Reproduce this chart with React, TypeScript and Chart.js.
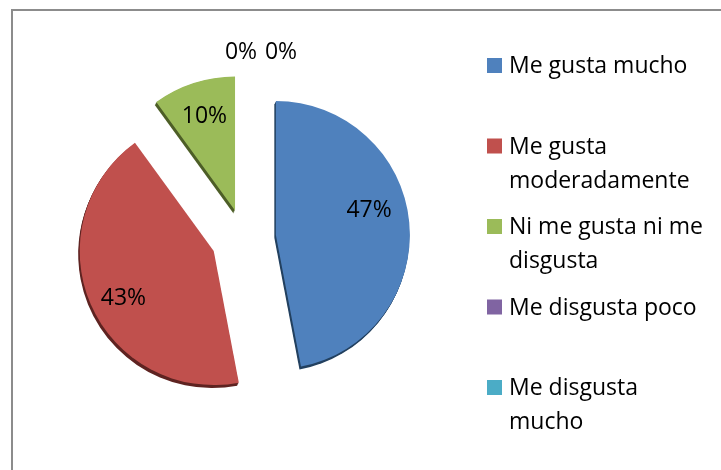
import React, { useEffect, useRef } from "react";
import { Chart, registerables } from "chart.js";

Chart.register(...registerables);

// ---- data ----
const categories = [
  "Me gusta mucho",
  "Me gusta moderadamente",
  "Ni me gusta ni me disgusta",
  "Me disgusta poco",
  "Me disgusta mucho",
];
const values = [47, 43, 10, 0, 0];
const percentLabels = ["47%", "43%", "10%", "0%", "0%"];

// ---- style ----
const colors = ["#4f81bd", "#c0504d", "#9bbb59", "#8064a2", "#4bacc6"];
const sideColors = ["#22405f", "#5e2321", "#4d5e27", "#40325a", "#246070"];
const explode = [32, 33, 29, 0, 0];
const labelAngleNudge = [-9.6, -4.2, 0, 0, 0];
const labelRadiusFrac = [0.72, 0.76, 0.74, 0, 0];
const FONT = "'Open Sans', Lato, sans-serif";
const LABEL_SIZE = 23;
const LEGEND_SIZE = 23;

function sliceCenter(el: any, i: number) {
  const p = el.getProps(["x", "y", "startAngle", "endAngle", "outerRadius", "circumference"], true);
  const mid = (p.startAngle + p.endAngle) / 2;
  const d = explode[i] || 0;
  return { ...p, mid, cx: p.x + Math.cos(mid) * d, cy: p.y + Math.sin(mid) * d };
}

const explodePlugin = {
  id: "explodeSlices",
  afterDatasetUpdate(chart: any, args: any) {
    args.meta.data.forEach((el: any, i: number) => {
      if (el.__exploded) return;
      const orig = el.draw;
      el.draw = function (ctx: any, area: any) {
        const mid = (this.startAngle + this.endAngle) / 2;
        const d = explode[i] || 0;
        ctx.save();
        ctx.translate(Math.cos(mid) * d, Math.sin(mid) * d);
        orig.call(this, ctx, area);
        ctx.restore();
      };
      el.__exploded = true;
    });
  },
};

const sidePlugin = {
  id: "side3d",
  beforeDatasetsDraw(chart: any) {
    const ctx = chart.ctx;
    const meta = chart.getDatasetMeta(0);
    meta.data.forEach((el: any, i: number) => {
      const s = sliceCenter(el, i);
      if (!s.circumference) return;
      ctx.save();
      ctx.fillStyle = sideColors[i];
      for (let k = 1; k <= 3; k++) {
        const ox = s.cx - 0.5 * k;
        const oy = s.cy + k;
        ctx.beginPath();
        ctx.moveTo(ox, oy);
        ctx.arc(ox, oy, s.outerRadius, s.startAngle, s.endAngle);
        ctx.closePath();
        ctx.fill();
      }
      ctx.restore();
    });
  },
};

const labelPlugin = {
  id: "sliceLabels",
  afterDatasetsDraw(chart: any) {
    const ctx = chart.ctx;
    const meta = chart.getDatasetMeta(0);
    ctx.save();
    ctx.font = `${LABEL_SIZE}px ${FONT}`;
    ctx.fillStyle = "#000";
    ctx.textAlign = "center";
    ctx.textBaseline = "middle";
    let zeroIdx = 0;
    meta.data.forEach((el: any, i: number) => {
      const s = sliceCenter(el, i);
      if (s.circumference) {
        const a = s.mid + (labelAngleNudge[i] * Math.PI) / 180;
        const r = s.outerRadius * labelRadiusFrac[i];
        ctx.fillText(percentLabels[i], s.cx + Math.cos(a) * r, s.cy + Math.sin(a) * r);
      } else {
        const lx = s.x - 3 + zeroIdx * 40;
        const ly = s.y - (s.outerRadius + 52);
        ctx.fillText(percentLabels[i], lx, ly);
        zeroIdx++;
      }
    });
    ctx.restore();
  },
};

const legendPlugin = {
  id: "wrapLegend",
  afterDraw(chart: any) {
    const ctx = chart.ctx;
    const ds = chart.data.datasets[0];
    const labels: string[] = chart.data.labels;
    const boxX = 487;
    const textX = 509;
    const firstTop = 58;
    const step = 80.5;
    const lineH = 34;
    const maxW = 200;
    ctx.save();
    ctx.font = `${LEGEND_SIZE}px ${FONT}`;
    ctx.textAlign = "left";
    ctx.textBaseline = "alphabetic";
    labels.forEach((lab, i) => {
      const top = firstTop + i * step;
      ctx.fillStyle = ds.backgroundColor[i];
      ctx.fillRect(boxX, top, 15, 15);
      const words = lab.split(" ");
      const lines: string[] = [];
      let cur = "";
      words.forEach((w) => {
        const test = cur ? cur + " " + w : w;
        if (cur && ctx.measureText(test).width > maxW) {
          lines.push(cur);
          cur = w;
        } else cur = test;
      });
      if (cur) lines.push(cur);
      ctx.fillStyle = "#000";
      lines.forEach((ln, k) => ctx.fillText(ln, textX, top + 15 + k * lineH));
    });
    ctx.restore();
  },
};

export default function App() {
  const ref = useRef<HTMLCanvasElement | null>(null);
  useEffect(() => {
    document.body.style.margin = "0";
    if (!ref.current) return;
    const chart = new Chart(ref.current, {
      type: "pie",
      data: {
        labels: categories,
        datasets: [
          {
            data: values,
            backgroundColor: colors,
            borderWidth: 0,
            offset: 0,
            radius: 134,
          } as any,
        ],
      },
      options: {
        animation: false,
        responsive: false,
        layout: { padding: { left: 0, right: 233, top: 6, bottom: 0 } },
        plugins: { legend: { display: false }, tooltip: { enabled: false } },
        events: [],
      },
      plugins: [explodePlugin, sidePlugin, labelPlugin, legendPlugin],
    });
    return () => chart.destroy();
  }, []);
  return (
    <div style={{ position: "relative", width: 721, height: 470, overflow: "hidden", background: "#fff" }}>
      <div
        style={{
          position: "absolute",
          left: 11,
          top: 9,
          width: 780,
          height: 540,
          border: "2px solid #8c8c8c",
          boxSizing: "border-box",
        }}
      />
      <canvas ref={ref} width={721} height={470} style={{ position: "absolute", left: 0, top: 0 }} />
    </div>
  );
}
